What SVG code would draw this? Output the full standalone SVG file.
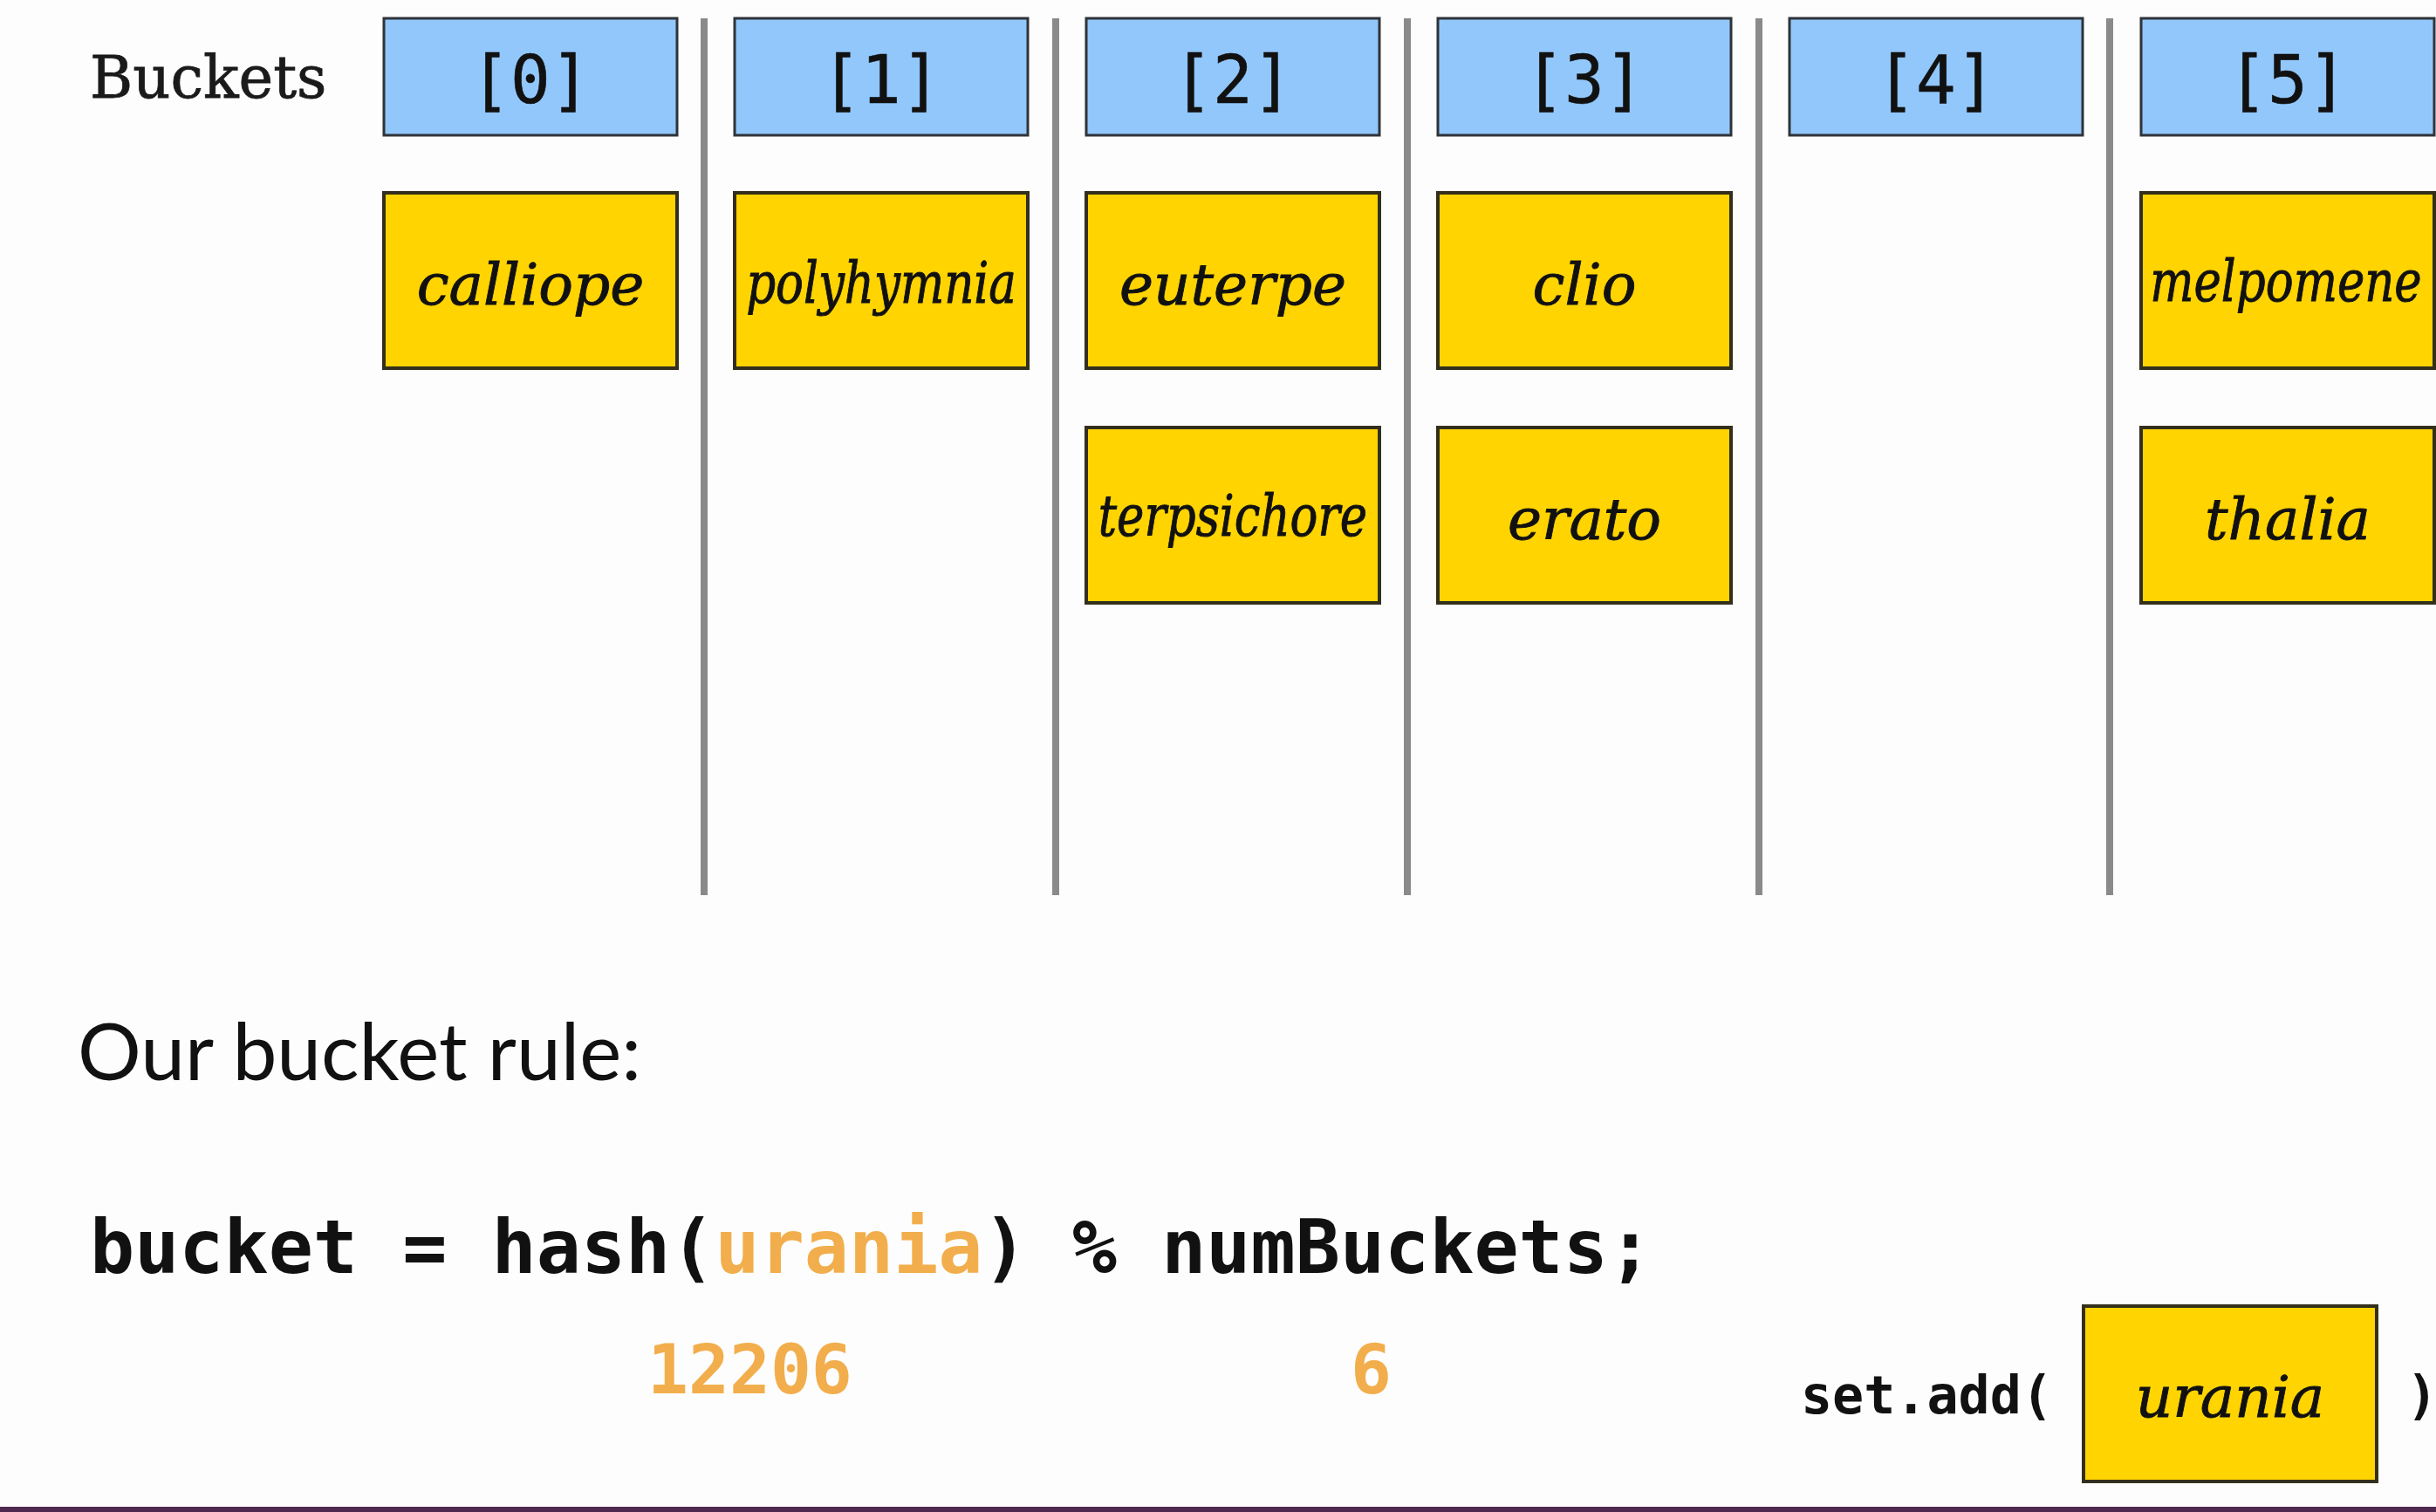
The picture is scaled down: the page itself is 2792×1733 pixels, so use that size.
<svg xmlns="http://www.w3.org/2000/svg" width="2792" height="1733" viewBox="0 0 2792 1733">
<style>
.bg{fill:#fdfdfd}
.bucket rect{fill:#92c7fb;stroke:#2f3338;stroke-width:3}
.bucket text{font-family:"DejaVu Sans Mono",monospace;font-size:76px;fill:#111;stroke:#111;stroke-width:0.6;text-anchor:middle}
.item rect{fill:#ffd400;stroke:#332f1c;stroke-width:4}
.item text{font-family:"DejaVu Serif",serif;font-style:italic;font-size:66px;fill:#111;stroke:#111;stroke-width:0.9;text-anchor:middle}
.item text.sq{font-size:53px;stroke-width:0.8}
.div line{stroke:#8a8a8a;stroke-width:8}
.code{font-family:"DejaVu Sans Mono",monospace;font-weight:bold;fill:#111}
.or{fill:#f2ae4c}
</style>
<rect class="bg" x="0" y="0" width="2792" height="1733"/>
<text x="103" y="112" font-family="DejaVu Serif, serif" font-size="67" fill="#1a1a1a" stroke="#1a1a1a" stroke-width="0.8">Buckets</text>
<g id="dividers" class="div">
<line x1="807" y1="21" x2="807" y2="1026"/>
<line x1="1210" y1="21" x2="1210" y2="1026"/>
<line x1="1613" y1="21" x2="1613" y2="1026"/>
<line x1="2016" y1="21" x2="2016" y2="1026"/>
<line x1="2418" y1="21" x2="2418" y2="1026"/>
</g>
<g id="bucket0" class="bucket"><rect x="440" y="21" width="336" height="134"/><text x="608" y="118">[0]</text></g>
<g id="bucket1" class="bucket"><rect x="842" y="21" width="336" height="134"/><text x="1010" y="118">[1]</text></g>
<g id="bucket2" class="bucket"><rect x="1245" y="21" width="336" height="134"/><text x="1413" y="118">[2]</text></g>
<g id="bucket3" class="bucket"><rect x="1648" y="21" width="336" height="134"/><text x="1816" y="118">[3]</text></g>
<g id="bucket4" class="bucket"><rect x="2051" y="21" width="336" height="134"/><text x="2219" y="118">[4]</text></g>
<g id="bucket5" class="bucket"><rect x="2454" y="21" width="336" height="134"/><text x="2622" y="118">[5]</text></g>
<g id="calliope" class="item"><rect x="440" y="221" width="336" height="201"/><text x="608" y="349">calliope</text></g>
<g id="polyhymnia" class="item"><rect x="842" y="221" width="336" height="201"/><text class="sq" transform="translate(1010,347) scale(1,1.24)">polyhymnia</text></g>
<g id="euterpe" class="item"><rect x="1245" y="221" width="336" height="201"/><text x="1413" y="349">euterpe</text></g>
<g id="terpsichore" class="item"><rect x="1245" y="490" width="336" height="201"/><text class="sq" transform="translate(1413,614) scale(1,1.24)">terpsichore</text></g>
<g id="clio" class="item"><rect x="1648" y="221" width="336" height="201"/><text x="1816" y="349">clio</text></g>
<g id="erato" class="item"><rect x="1648" y="490" width="336" height="201"/><text x="1816" y="618">erato</text></g>
<g id="melpomene" class="item"><rect x="2454" y="221" width="336" height="201"/><text class="sq" transform="translate(2620,345) scale(1,1.24)">melpomene</text></g>
<g id="thalia" class="item"><rect x="2454" y="490" width="336" height="201"/><text x="2622" y="618">thalia</text></g>
<text x="89" y="1238" font-family="Lato, sans-serif" font-size="91" fill="#111">Our bucket rule:</text>
<text class="code" x="103" y="1459" font-size="85">bucket = hash(<tspan class="or">urania</tspan>) % numBuckets;</text>
<text class="code or" x="742" y="1597" font-size="78">12206</text>
<text class="code or" x="1548" y="1597" font-size="78">6</text>
<text class="code" x="2064" y="1620" font-size="60">set.add(</text>
<g id="urania" class="item"><rect x="2388" y="1497" width="336" height="201"/><text x="2556" y="1624">urania</text></g>
<text class="code" x="2758" y="1620" font-size="60">)</text>
<rect x="0" y="1727" width="2792" height="6" fill="#502a4e"/>
</svg>
